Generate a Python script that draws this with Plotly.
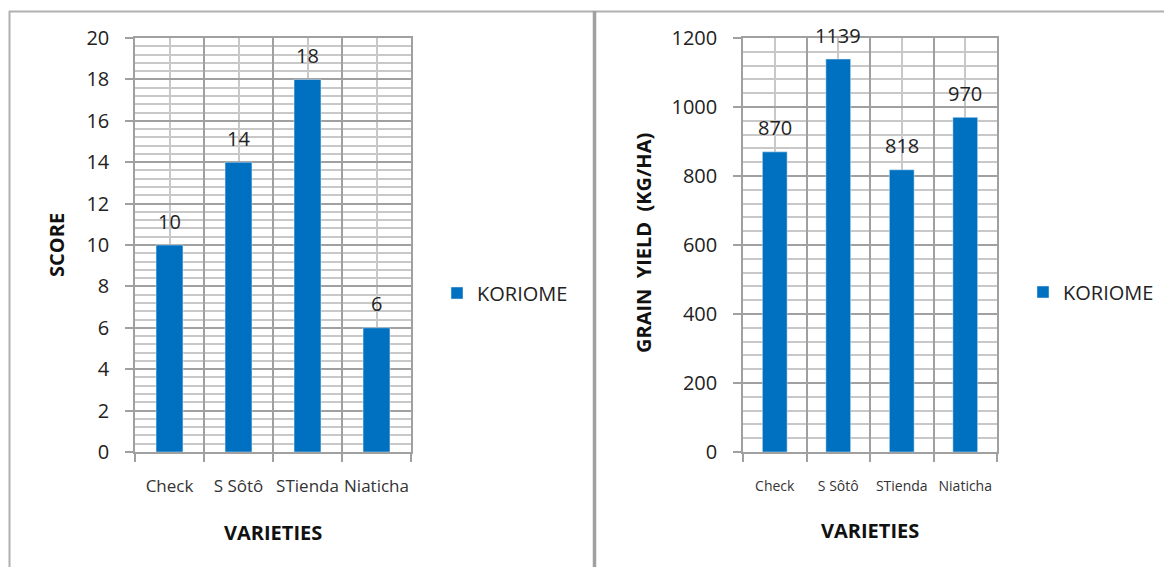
import plotly.graph_objects as go

W, H = 1164, 567

categories = ["Check", "S Sôtô", "STienda", "Niaticha"]
score = [10, 14, 18, 6]
grain_yield = [870, 1139, 818, 970]
series_name = "KORIOME"

score_ticks = [0, 2, 4, 6, 8, 10, 12, 14, 16, 18, 20]
yield_ticks = [0, 200, 400, 600, 800, 1000, 1200]

FONT = "Open Sans"
BAR = "#0070C0"
MAJOR = "#a0a0a0"
MINOR = "#c8c8c8"
TXT = "#222222"


def px(x):
    return x / W


def py(y):
    return 1 - y / H


pos = list(range(len(categories)))

fig = go.Figure()
fig.add_trace(go.Bar(x=pos, y=score, name=series_name, marker_color=BAR,
                     xaxis="x", yaxis="y", legend="legend"))
fig.add_trace(go.Bar(x=pos, y=grain_yield, name=series_name, marker_color=BAR,
                     xaxis="x2", yaxis="y2", legend="legend2"))

ydom = [py(452), py(38)]


def grid_x(domain, anchor):
    return dict(domain=domain, anchor=anchor, type="linear",
                range=[-0.5, len(categories) - 0.5],
                tick0=-0.5, dtick=1, ticks="outside", ticklen=8,
                tickcolor=MAJOR, tickwidth=1.5,
                showgrid=True, gridcolor=MAJOR, gridwidth=1.5,
                showline=True, linecolor=MAJOR, linewidth=1.5, mirror=True,
                showticklabels=False, zeroline=False, fixedrange=True,
                minor=dict(tick0=0, dtick=1, showgrid=True,
                           gridcolor=MINOR, gridwidth=1.5, ticks=""))


def label_x(overlay, anchor, size, standoff):
    return dict(overlaying=overlay, anchor=anchor, side="bottom",
                type="linear", range=[-0.5, len(categories) - 0.5],
                tickmode="array", tickvals=pos, ticktext=categories,
                ticks="", showgrid=False, zeroline=False, showline=False,
                tickangle=0, ticklabelstandoff=standoff,
                tickfont=dict(family=FONT, size=size, color="#333333"))


def val_y(domain, anchor, rng, ticks, minor_dt):
    return dict(domain=domain, anchor=anchor, range=rng,
                tickmode="array", tickvals=ticks,
                ticks="outside", ticklen=8, tickcolor=MAJOR, tickwidth=1.5,
                showgrid=True, gridcolor=MAJOR, gridwidth=1.5,
                showline=True, linecolor=MAJOR, linewidth=1.5, mirror=True,
                zeroline=False, ticklabelstandoff=12,
                tickfont=dict(family=FONT, size=20, color=TXT),
                minor=dict(dtick=minor_dt, showgrid=True,
                           gridcolor=MINOR, gridwidth=1.5, ticks=""))


fig.update_layout(
    width=W, height=H,
    margin=dict(l=0, r=0, t=0, b=0, autoexpand=False),
    paper_bgcolor="white", plot_bgcolor="white",
    bargap=0.61,
    font=dict(family=FONT, color=TXT),
    xaxis=grid_x([px(135), px(411)], "y"),
    yaxis=val_y(ydom, "x", [0, 20], score_ticks, 0.4),
    xaxis2=grid_x([px(743), px(997)], "y2"),
    yaxis2=val_y(ydom, "x2", [0, 1200], yield_ticks, 40),
    xaxis3=label_x("x", "y", 17, 22),
    xaxis4=label_x("x2", "y2", 14, 24),
    legend=dict(x=px(437), y=py(293), xanchor="left", yanchor="middle",
                font=dict(family=FONT, size=20, color=TXT),
                bgcolor="rgba(0,0,0,0)"),
    legend2=dict(x=px(1023), y=py(292), xanchor="left", yanchor="middle",
                 font=dict(family=FONT, size=20, color=TXT),
                 bgcolor="rgba(0,0,0,0)"),
)

# invisible traces to make the label axes render
fig.add_trace(go.Scatter(x=pos, y=score, xaxis="x3", yaxis="y", mode="none",
                         showlegend=False, hoverinfo="skip"))
fig.add_trace(go.Scatter(x=pos, y=grain_yield, xaxis="x4", yaxis="y2", mode="none",
                         showlegend=False, hoverinfo="skip"))

annotations = []
for i, v in zip(pos, score):
    annotations.append(dict(x=i, y=v, xref="x", yref="y", text=str(v),
                            showarrow=False, xanchor="center", yanchor="middle",
                            yshift=24, font=dict(family=FONT, size=20, color=TXT)))
for i, v in zip(pos, grain_yield):
    annotations.append(dict(x=i, y=v, xref="x2", yref="y2", text=str(v),
                            showarrow=False, xanchor="center", yanchor="middle",
                            yshift=24, font=dict(family=FONT, size=20, color=TXT)))

title_font = dict(family=FONT, size=20, color="#111111")
titles = [
    (57, 245, "<b>SCORE</b>", -90),
    (273, 532, "<b>VARIETIES</b>", 0),
    (643, 243, "<b>GRAIN\u00a0 YIELD\u00a0 (KG/HA)</b>", -90),
    (870, 530, "<b>VARIETIES</b>", 0),
]
for x, y, t, ang in titles:
    annotations.append(dict(x=px(x), y=py(y), xref="paper", yref="paper", text=t,
                            textangle=ang, showarrow=False, xanchor="center",
                            yanchor="middle", font=title_font))
fig.update_layout(annotations=annotations)

# panel frames
BORDER = "#b0b0b0"
fig.update_layout(shapes=[
    dict(type="line", xref="paper", yref="paper", x0=px(9), x1=1, y0=py(11.5), y1=py(11.5),
         line=dict(color=BORDER, width=2)),
    dict(type="line", xref="paper", yref="paper", x0=px(9.5), x1=px(9.5), y0=0, y1=py(11),
         line=dict(color=BORDER, width=2)),
    dict(type="line", xref="paper", yref="paper", x0=px(594.5), x1=px(594.5), y0=0, y1=py(11),
         line=dict(color="#a0a0a0", width=3.5)),
])

fig.write_html("out.html")
